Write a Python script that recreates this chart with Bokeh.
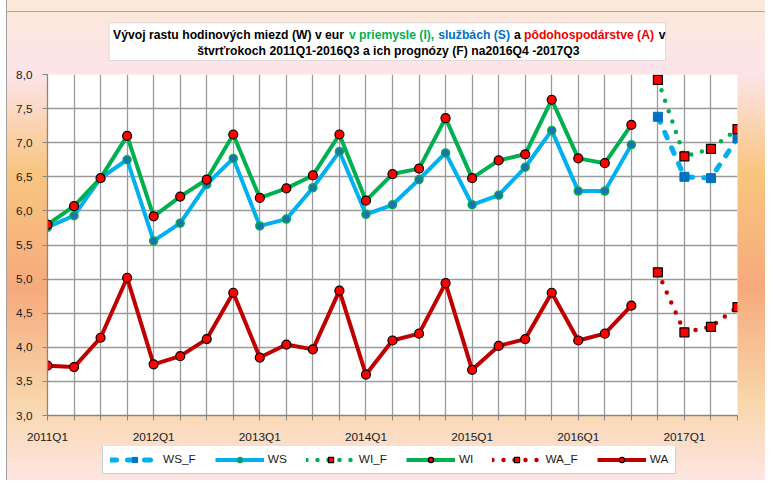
from bokeh.plotting import figure
from bokeh.layouts import column
from bokeh.models import (Range1d, FixedTicker, Legend, LegendItem, Label,
                          BoxAnnotation, CustomJSTickFormatter)
from bokeh.embed import file_html
from bokeh.resources import INLINE

# ---------------- data ----------------
quarters = ["2011Q1", "2011Q2", "2011Q3", "2011Q4",
            "2012Q1", "2012Q2", "2012Q3", "2012Q4",
            "2013Q1", "2013Q2", "2013Q3", "2013Q4",
            "2014Q1", "2014Q2", "2014Q3", "2014Q4",
            "2015Q1", "2015Q2", "2015Q3", "2015Q4",
            "2016Q1", "2016Q2", "2016Q3", "2016Q4",
            "2017Q1", "2017Q2", "2017Q3"]

ws = [5.76, 5.93, 6.48, 6.75, 5.56, 5.82, 6.39, 6.77, 5.78, 5.88, 6.34, 6.87,
      5.95, 6.09, 6.46, 6.85, 6.09, 6.23, 6.64, 7.18, 6.29, 6.29, 6.97]
wi = [5.80, 6.07, 6.48, 7.10, 5.92, 6.21, 6.46, 7.12, 6.19, 6.33, 6.52, 7.12,
      6.15, 6.54, 6.62, 7.36, 6.48, 6.74, 6.83, 7.63, 6.77, 6.70, 7.26]
wa = [3.73, 3.71, 4.14, 5.02, 3.75, 3.87, 4.12, 4.80, 3.85, 4.04, 3.97, 4.83,
      3.60, 4.10, 4.20, 4.94, 3.67, 4.02, 4.12, 4.80, 4.10, 4.20, 4.61]

ws_f = [7.38, 6.50, 6.48, 7.07]
wi_f = [7.92, 6.80, 6.91, 7.20]
wa_f = [5.10, 4.22, 4.30, 4.59]

y_ticks = [3.0, 3.5, 4.0, 4.5, 5.0, 5.5, 6.0, 6.5, 7.0, 7.5, 8.0]
y_tick_labels = ["3,0", "3,5", "4,0", "4,5", "5,0", "5,5", "6,0", "6,5", "7,0", "7,5", "8,0"]

series_names = ["WS_F", "WS", "WI_F", "WI", "WA_F", "WA"]

title_line1 = [("Vývoj rastu hodinových miezd (W) v eur", "#000000"),
               ("v priemysle (I),", "#00b050"),
               ("službách (S)", "#0070c0"),
               ("a", "#000000"),
               ("pôdohospodárstve (A)", "#f00000"),
               ("v", "#000000")]
title_line2 = "štvrťrokoch 2011Q1-2016Q3 a ich prognózy (F) na2016Q4 -2017Q3"

# ---------------- styling / layout ----------------
FONT = "Liberation Sans"
n_hist = len(ws)
x_hist = list(range(n_hist))
x_fc = list(range(n_hist, n_hist + len(ws_f)))
x_last = len(quarters) - 1

BLUE_L, BLUE_D, GREEN, DRED, RED = "#00b0f0", "#0070c0", "#00b050", "#c00000", "#ff0000"


def draw_series(fig):
    r = []
    r.append([fig.line(x_fc, ws_f, line_color=BLUE_L, line_width=5, line_dash="6 11", line_cap="round"),
              fig.scatter(x_fc, ws_f, marker="square", size=9, fill_color=BLUE_D, line_color=BLUE_D)])
    r.append([fig.line(x_hist, ws, line_color=BLUE_L, line_width=4),
              fig.scatter(x_hist, ws, marker="circle", size=8, fill_color="#1f6fb8",
                          line_color=GREEN, line_width=1.5)])
    r.append([fig.line(x_fc, wi_f, line_color=GREEN, line_width=4.5, line_dash="0 11", line_cap="round"),
              fig.scatter(x_fc, wi_f, marker="square", size=9, fill_color=RED,
                          line_color="#000000", line_width=1.2)])
    r.append([fig.line(x_hist, wi, line_color=GREEN, line_width=4),
              fig.scatter(x_hist, wi, marker="circle", size=9, fill_color=RED,
                          line_color="#000000", line_width=1.2)])
    r.append([fig.line(x_fc, wa_f, line_color=DRED, line_width=4.5, line_dash="0 11", line_cap="round"),
              fig.scatter(x_fc, wa_f, marker="square", size=9, fill_color=RED,
                          line_color="#000000", line_width=1.2)])
    r.append([fig.line(x_hist, wa, line_color=DRED, line_width=4),
              fig.scatter(x_hist, wa, marker="circle", size=9, fill_color=RED,
                          line_color="#000000", line_width=1.2)])
    return r


def bare(fig):
    fig.background_fill_alpha = 0
    fig.border_fill_alpha = 0
    fig.outline_line_color = None
    fig.grid.visible = False


# ---- title figure ----
t = figure(width=765, height=66, output_backend="svg", toolbar_location=None,
           x_range=Range1d(0, 1), y_range=Range1d(0, 1),
           x_axis_type=None, y_axis_type=None,
           min_border_left=0, min_border_right=0, min_border_top=0, min_border_bottom=0)
bare(t)
t.add_layout(BoxAnnotation(left=61.7, right=618.1, bottom=6, top=43.7,
                           left_units="screen", right_units="screen",
                           bottom_units="screen", top_units="screen",
                           fill_color="white", fill_alpha=1,
                           line_color="#a0a0a0", line_width=1))
line1_x = [65.6, 301.4, 390.7, 466.4, 476.5, 611.2]
for (txt, col), xx in zip(title_line1, line1_x):
    t.add_layout(Label(x=xx, y=31.6, x_units="screen", y_units="screen", text=txt,
                       text_font=FONT, text_font_style="bold", text_font_size="12.2px",
                       text_color=col, text_align="left", text_baseline="middle"))
t.add_layout(Label(x=340.9, y=15.7, x_units="screen", y_units="screen", text=title_line2,
                   text_font=FONT, text_font_style="bold", text_font_size="12.2px",
                   text_color="#000000", text_align="center", text_baseline="middle"))

# ---- main chart ----
p = figure(width=765, height=380, output_backend="svg", toolbar_location=None,
           x_range=Range1d(0, x_last),
           y_range=Range1d(y_ticks[0], y_ticks[-1]),
           min_border_left=47, min_border_right=28,
           min_border_top=8, min_border_bottom=30)
p.background_fill_color = "white"
p.border_fill_alpha = 0
p.outline_line_color = None

p.xgrid.ticker = FixedTicker(ticks=list(range(len(quarters))))
p.ygrid.ticker = FixedTicker(ticks=y_ticks)
p.grid.grid_line_color = "#9a9a9a"
p.grid.grid_line_width = 1.3

p.xaxis.ticker = FixedTicker(ticks=list(range(len(quarters))))
p.yaxis.ticker = FixedTicker(ticks=y_ticks)
p.xaxis.formatter = CustomJSTickFormatter(
    args=dict(labels=quarters),
    code="const q = labels[Math.round(tick)]; return (q && q.endsWith('Q1')) ? q : '';")
p.yaxis.formatter = CustomJSTickFormatter(
    args=dict(labels=y_tick_labels, vals=y_ticks),
    code="const i = vals.findIndex(v => Math.abs(v - tick) < 1e-6); return i >= 0 ? labels[i] : '';")
p.axis.axis_line_color = "#868686"
p.axis.axis_line_width = 1.3
p.axis.major_tick_line_color = "#868686"
p.axis.major_tick_in = 0
p.axis.major_tick_out = 5
p.axis.minor_tick_line_color = None
p.axis.major_label_text_font = FONT
p.axis.major_label_text_font_size = "11.8px"
p.axis.major_label_text_color = "#1a1a1a"
p.yaxis.major_label_standoff = 10
p.xaxis.major_label_standoff = 9

draw_series(p)

# ---- legend strip (same glyph styles, data kept outside its visible range) ----
lg = figure(width=765, height=34, output_backend="svg", toolbar_location=None,
            x_range=Range1d(1000, 1001), y_range=Range1d(1000, 1001),
            x_axis_type=None, y_axis_type=None,
            min_border_left=0, min_border_right=0, min_border_top=0, min_border_bottom=0)
bare(lg)
lg_rs = draw_series(lg)
legend = Legend(items=[LegendItem(label=nm, renderers=rs) for nm, rs in zip(series_names, lg_rs)],
                orientation="horizontal", location=(55, 6), glyph_width=49, glyph_height=13,
                label_standoff=4, spacing=19, padding=7, margin=0, label_width=10, label_height=13,
                label_text_font=FONT, label_text_font_size="11.8px", label_text_color="#1a1a1a",
                border_line_color="#a0a0a0", border_line_width=1,
                background_fill_color="white", background_fill_alpha=1)
lg.add_layout(legend)

layout = column(t, p, lg, spacing=0, styles={
    "background": ("linear-gradient(to right, #ffffff 0px, #ffffff 6px, #a0a0a0 6px, #a0a0a0 7px, "
                   "transparent 7px), "
                   "linear-gradient(to bottom, transparent 11px, #b0a8a0 11px, #b0a8a0 12px, "
                   "transparent 12px), "
                   "linear-gradient(to bottom, #fbe9d8 0%, #fce4ea 15%, #f8c57f 36%, "
                   "#f6aa7c 60%, #f9d6ac 84%, #fde5e2 100%)"),
})

open("out.html", "w").write(file_html(layout, INLINE))
